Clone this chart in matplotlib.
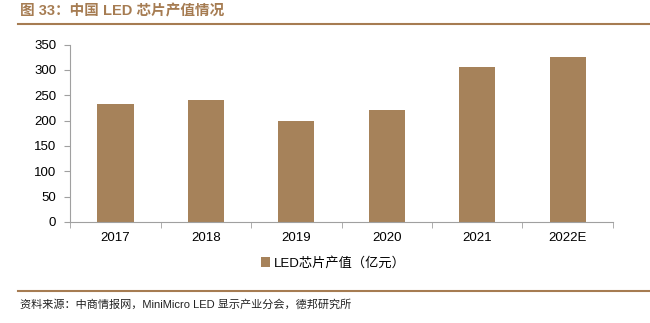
import matplotlib.pyplot as plt

plt.rcParams['font.family'] = ['Liberation Sans', 'Noto Sans CJK SC', 'DejaVu Sans']

years = ['2017', '2018', '2019', '2020', '2021', '2022E']
output_value = [232, 240, 200, 220, 306, 326]
yticks = [0, 50, 100, 150, 200, 250, 300, 350]

bar_color = '#A6825A'
brown = '#A67C52'
axis_grey = '#A0A0A0'

fig = plt.figure(figsize=(6.5, 3.23), dpi=100)
ax = fig.add_axes([0.108, 0.313, 0.835, 0.549])

x = range(len(years))
ax.bar(x, output_value, width=0.4, color=bar_color, label='LED芯片产值（亿元）', zorder=2)

ax.set_xlim(-0.5, len(years) - 0.5)
ax.set_ylim(0, 350)
ax.set_yticks(yticks)
ax.set_xticks(list(x))
ax.set_xticklabels(years)
ax.set_xticks([i + 0.5 for i in range(-1, len(years))], minor=True)

for s in ['top', 'right']:
    ax.spines[s].set_visible(False)
for s in ['left', 'bottom']:
    ax.spines[s].set_color(axis_grey)
    ax.spines[s].set_linewidth(0.8)

ax.tick_params(axis='y', length=4, color=axis_grey, labelsize=9.5, pad=6)
ax.tick_params(axis='x', which='major', length=0, labelsize=9.5, pad=7)
ax.tick_params(axis='x', which='minor', length=4, color=axis_grey)

ax.legend(loc='upper center', bbox_to_anchor=(0.485, -0.13), frameon=False,
          fontsize=9.5, handlelength=0.7, handleheight=0.7, handletextpad=0.3)

# 标题与来源
fig.text(0.03, 0.965, '图 33：中国 LED 芯片产值情况', color=brown, fontsize=10.5,
         fontweight='bold', va='center')
fig.add_artist(plt.Line2D([0.028, 1.0], [0.925, 0.925], color=brown, lw=1.5))
fig.add_artist(plt.Line2D([0.028, 1.0], [0.10, 0.10], color=brown, lw=1.5))
fig.text(0.03, 0.058, '资料来源：中商情报网，MiniMicro LED 显示产业分会，德邦研究所',
         fontsize=8, va='center', color='#222222')

plt.savefig('out.png', dpi=100)
plt.close()
